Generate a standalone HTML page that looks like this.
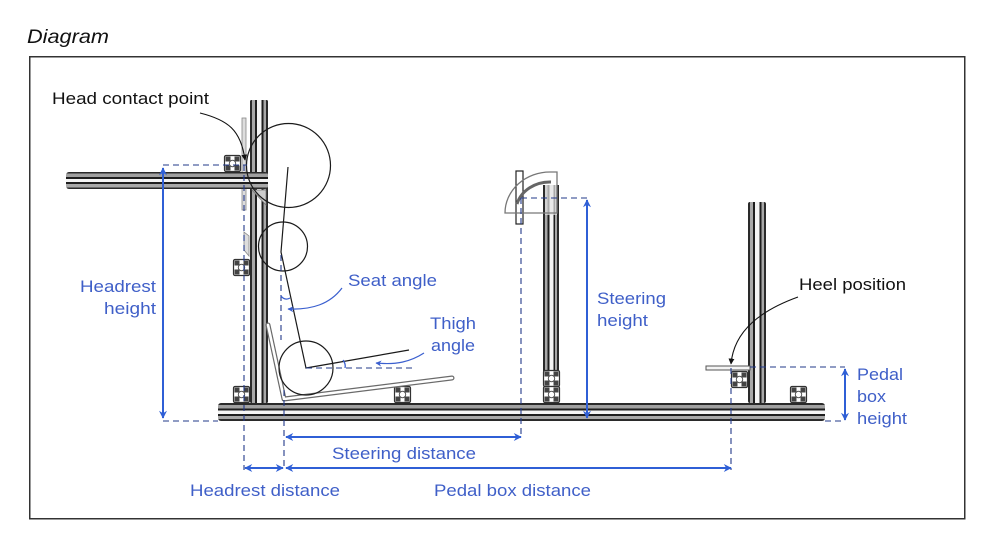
<!DOCTYPE html>
<html><head><meta charset="utf-8"><style>
html,body{margin:0;padding:0;background:#fff;}
svg{display:block;}
text{font-family:"Liberation Sans",Arial,sans-serif;}
</style></head><body>
<svg width="998" height="544" viewBox="0 0 998 544" xmlns="http://www.w3.org/2000/svg">
<defs>
<linearGradient id="hg" x1="0" y1="0" x2="0" y2="1">
<stop offset="0" stop-color="#2a2a2a"/><stop offset=".1" stop-color="#2a2a2a"/>
<stop offset=".1" stop-color="#a0a0a0"/><stop offset=".3" stop-color="#a0a0a0"/>
<stop offset=".3" stop-color="#1e1e1e"/><stop offset=".42" stop-color="#1e1e1e"/>
<stop offset=".42" stop-color="#f4f4f4"/><stop offset=".6" stop-color="#f4f4f4"/>
<stop offset=".6" stop-color="#1e1e1e"/><stop offset=".72" stop-color="#1e1e1e"/>
<stop offset=".72" stop-color="#a8a8a8"/><stop offset=".9" stop-color="#a8a8a8"/>
<stop offset=".9" stop-color="#2a2a2a"/><stop offset="1" stop-color="#2a2a2a"/>
</linearGradient>
<linearGradient id="vg" x1="0" y1="0" x2="1" y2="0">
<stop offset="0" stop-color="#2a2a2a"/><stop offset=".12" stop-color="#2a2a2a"/>
<stop offset=".12" stop-color="#a8a8a8"/><stop offset=".28" stop-color="#a8a8a8"/>
<stop offset=".28" stop-color="#1e1e1e"/><stop offset=".4" stop-color="#1e1e1e"/>
<stop offset=".4" stop-color="#f4f4f4"/><stop offset=".65" stop-color="#f4f4f4"/>
<stop offset=".65" stop-color="#1e1e1e"/><stop offset=".76" stop-color="#1e1e1e"/>
<stop offset=".76" stop-color="#a8a8a8"/><stop offset=".88" stop-color="#a8a8a8"/>
<stop offset=".88" stop-color="#2a2a2a"/><stop offset="1" stop-color="#2a2a2a"/>
</linearGradient>
<marker id="ab" viewBox="0 0 10 10" refX="9" refY="5" markerWidth="9" markerHeight="8" markerUnits="userSpaceOnUse" orient="auto-start-reverse">
<path d="M0,0 L10,5 L0,10 L3,5 Z" fill="#2f5fd6"/></marker>
<marker id="ak" viewBox="0 0 10 10" refX="9" refY="5" markerWidth="6" markerHeight="6" markerUnits="userSpaceOnUse" orient="auto">
<path d="M0,0 L10,5 L0,10 Z" fill="#111"/></marker>
<marker id="abs" viewBox="0 0 10 10" refX="9" refY="5" markerWidth="7" markerHeight="6" markerUnits="userSpaceOnUse" orient="auto">
<path d="M0,0 L10,5 L0,10 L3,5 Z" fill="#3a5fcf"/></marker>
<g id="sq">
<rect x="0.5" y="0.5" width="16" height="16" rx="1.5" fill="#fff" stroke="#333" stroke-width="1.2"/>
<rect x="1.5" y="1.5" width="5" height="5" fill="#444"/>
<rect x="10.5" y="1.5" width="5" height="5" fill="#444"/>
<rect x="1.5" y="10.5" width="5" height="5" fill="#444"/>
<rect x="10.5" y="10.5" width="5" height="5" fill="#444"/>
<circle cx="8.5" cy="8.5" r="3.2" fill="#fff" stroke="#555" stroke-width="1"/>
</g>
</defs>

<rect width="998" height="544" fill="#fff"/>
<text x="27" y="43" font-size="19.5" font-style="italic" fill="#111" textLength="82" lengthAdjust="spacingAndGlyphs">Diagram</text>
<rect x="29.75" y="56.75" width="935" height="462" fill="none" stroke="#333" stroke-width="1.5"/>

<!-- headrest plate -->
<rect x="242" y="118" width="4" height="92" fill="#ddd" stroke="#888" stroke-width="0.8"/>
<!-- left post -->
<rect x="250" y="100" width="18" height="303" rx="1.5" fill="url(#vg)"/>
<!-- headrest bar -->
<rect x="66" y="172" width="202" height="17" rx="3" fill="url(#hg)"/>
<path d="M252,190 L266,190 L266,205 Z" fill="#ccc" stroke="#777" stroke-width="0.8"/>
<path d="M244,232 L249,236 L249,256 L244,250 Z" fill="#ddd" stroke="#888" stroke-width="0.8"/>
<!-- base bar -->
<rect x="218" y="403" width="607" height="18" rx="3" fill="url(#hg)"/>
<!-- steering post -->
<rect x="543" y="185" width="16" height="186" fill="url(#vg)"/>
<rect x="545" y="185" width="12" height="30" fill="#e4e4e4" opacity=".7"/>
<!-- pedal post -->
<rect x="748" y="202" width="18" height="201" rx="2" fill="url(#vg)"/>

<!-- profile squares -->
<use href="#sq" x="224" y="155"/>
<use href="#sq" x="233" y="259"/>
<use href="#sq" x="233" y="386"/>
<use href="#sq" x="394" y="386"/>
<use href="#sq" x="543" y="370"/>
<use href="#sq" x="543" y="386"/>
<use href="#sq" x="731" y="371"/>
<use href="#sq" x="790" y="386"/>

<!-- seat -->
<path d="M268,325 L284,399 L452,378" fill="none" stroke="#6a6a6a" stroke-width="5" stroke-linejoin="round" stroke-linecap="round"/>
<path d="M268,325 L284,399 L452,378" fill="none" stroke="#fff" stroke-width="2.6" stroke-linejoin="round" stroke-linecap="round"/>

<!-- steering wheel -->
<rect x="516" y="171" width="7" height="53" fill="#fff" stroke="#222" stroke-width="1.2"/>
<path d="M505,213 A45,41 0 0 1 550,172 L557,172 L557,213 Z" fill="none" stroke="#777" stroke-width="1.3"/>
<path d="M517,204 A34,30 0 0 1 551,182" fill="none" stroke="#666" stroke-width="3"/>

<!-- heel plate -->
<rect x="706" y="366" width="44" height="4" fill="#f4f4f4" stroke="#555" stroke-width="1"/>

<!-- body circles and lines -->
<g fill="none" stroke="#1a1a1a" stroke-width="1.2">
<circle cx="288.5" cy="165.5" r="42"/>
<circle cx="283" cy="246.5" r="24.5"/>
<circle cx="306" cy="368" r="27"/>
<polyline points="288,167 281,252 306,368 409,350"/>
</g>

<!-- dashed lines -->
<g fill="none" stroke="#22398a" stroke-width="1.1" stroke-dasharray="6,4">
<line x1="163" y1="165" x2="247" y2="165"/>
<line x1="163" y1="421" x2="218" y2="421"/>
<line x1="244" y1="165" x2="244" y2="470"/>
<line x1="281" y1="255" x2="281" y2="340"/>
<line x1="284" y1="390" x2="284" y2="470"/>
<line x1="306" y1="368" x2="413" y2="368"/>
<line x1="521" y1="198" x2="587" y2="198"/>
<line x1="521" y1="198" x2="521" y2="438"/>
<line x1="731" y1="368" x2="731" y2="470"/>
<line x1="750" y1="367" x2="845" y2="367"/>
<line x1="825" y1="421" x2="845" y2="421"/>
</g>

<!-- angle arcs -->
<path d="M281,296 Q285,301 290,298" fill="none" stroke="#3a5fcf" stroke-width="1.3"/>
<path d="M343,360 Q346,364 345,368" fill="none" stroke="#3a5fcf" stroke-width="1.3"/>

<!-- blue dimension arrows -->
<g stroke="#2f5fd6" stroke-width="2" fill="none">
<line x1="163" y1="168" x2="163" y2="418" marker-start="url(#ab)" marker-end="url(#ab)"/>
<line x1="587" y1="200" x2="587" y2="418" marker-start="url(#ab)" marker-end="url(#ab)"/>
<line x1="845" y1="369" x2="845" y2="420" marker-start="url(#ab)" marker-end="url(#ab)"/>
<line x1="286" y1="437" x2="521" y2="437" marker-start="url(#ab)" marker-end="url(#ab)"/>
<line x1="245" y1="468" x2="283" y2="468" marker-start="url(#ab)" marker-end="url(#ab)"/>
<line x1="286" y1="468" x2="731" y2="468" marker-start="url(#ab)" marker-end="url(#ab)"/>
</g>

<!-- blue leaders -->
<g stroke="#3a5fcf" stroke-width="1.2" fill="none">
<path d="M342,288 C330,304 312,310 288,309" marker-end="url(#abs)"/>
<path d="M424,353 C410,362 396,365 376,363" marker-end="url(#abs)"/>
</g>

<!-- black leaders -->
<g stroke="#111" stroke-width="1.1" fill="none">
<path d="M200,113 C228,120 241,130 245,160" marker-end="url(#ak)"/>
<path d="M798,297 C762,310 734,330 731,364" marker-end="url(#ak)"/>
</g>

<!-- labels -->
<g font-size="17" fill="#111">
<text x="52" y="104" textLength="157" lengthAdjust="spacingAndGlyphs">Head contact point</text>
<text x="799" y="290" textLength="107" lengthAdjust="spacingAndGlyphs">Heel position</text>
</g>
<g font-size="17" fill="#3f5fc8">
<text x="80" y="292" textLength="76" lengthAdjust="spacingAndGlyphs">Headrest</text>
<text x="104" y="314" textLength="52" lengthAdjust="spacingAndGlyphs">height</text>
<text x="348" y="286" textLength="89" lengthAdjust="spacingAndGlyphs">Seat angle</text>
<text x="430" y="329" textLength="46" lengthAdjust="spacingAndGlyphs">Thigh</text>
<text x="431" y="351" textLength="44" lengthAdjust="spacingAndGlyphs">angle</text>
<text x="597" y="304" textLength="69" lengthAdjust="spacingAndGlyphs">Steering</text>
<text x="597" y="326" textLength="51" lengthAdjust="spacingAndGlyphs">height</text>
<text x="857" y="380" textLength="46" lengthAdjust="spacingAndGlyphs">Pedal</text>
<text x="857" y="402" textLength="29" lengthAdjust="spacingAndGlyphs">box</text>
<text x="857" y="424" textLength="50" lengthAdjust="spacingAndGlyphs">height</text>
<text x="332" y="459" textLength="144" lengthAdjust="spacingAndGlyphs">Steering distance</text>
<text x="190" y="496" textLength="150" lengthAdjust="spacingAndGlyphs">Headrest distance</text>
<text x="434" y="496" textLength="157" lengthAdjust="spacingAndGlyphs">Pedal box distance</text>
</g>
</svg>
</body></html>
